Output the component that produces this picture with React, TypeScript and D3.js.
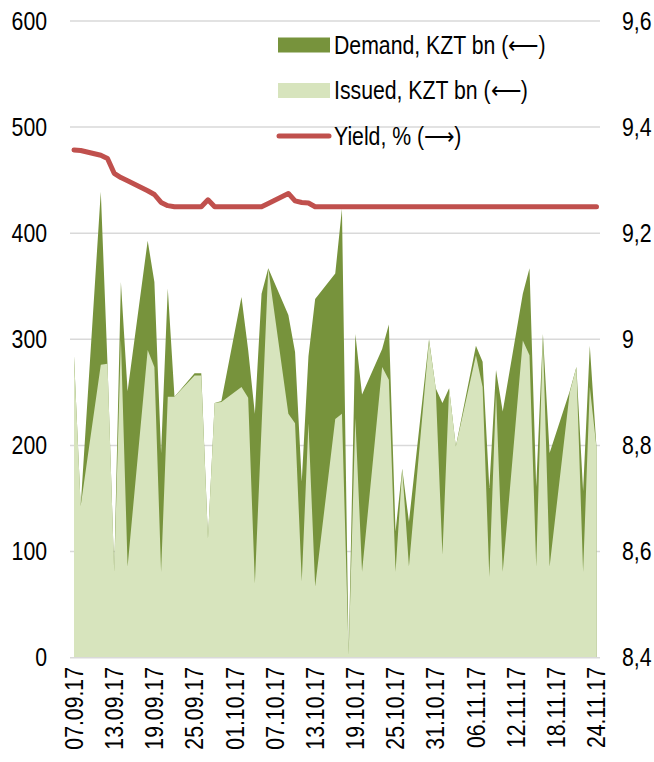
import React from "react";
import * as d3 from "d3";

// auction dates (business days)
const dates = [
  "07.09.17", "08.09.17", "11.09.17", "12.09.17", "13.09.17", "14.09.17", "15.09.17",
  "18.09.17", "19.09.17", "20.09.17", "21.09.17", "22.09.17", "25.09.17", "26.09.17",
  "27.09.17", "28.09.17", "29.09.17", "02.10.17", "03.10.17", "04.10.17", "05.10.17",
  "06.10.17", "09.10.17", "10.10.17", "11.10.17", "12.10.17", "13.10.17", "16.10.17",
  "17.10.17", "18.10.17", "19.10.17", "20.10.17", "23.10.17", "24.10.17", "25.10.17",
  "26.10.17", "27.10.17", "30.10.17", "31.10.17", "01.11.17", "02.11.17", "03.11.17",
  "06.11.17", "07.11.17", "08.11.17", "09.11.17", "10.11.17", "13.11.17", "14.11.17",
  "15.11.17", "16.11.17", "17.11.17", "20.11.17", "21.11.17", "22.11.17", "23.11.17",
  "24.11.17",
];

// KZT bn
const demand = [
  284, 143, 439, 277, 81, 354, 251, 393, 354, 193, 348, 246, 268, 268, 112, 240, 242,
  340, 290, 230, 343, 367, 323, 288, 166, 284, 338, 362, 423, 3, 305, 248, 291, 314,
  119, 178, 128, 300, 254, 240, 254, 199, 294, 279, 160, 271, 232, 343, 367, 161, 305,
  193, 251, 274, 157, 294, 198,
];
const issued = [
  284, 143, 276, 277, 81, 300, 86, 290, 274, 81, 246, 246, 266, 266, 112, 240, 241,
  255, 245, 70, 218, 367, 230, 221, 72, 221, 67, 225, 230, 3, 226, 81, 274, 262, 81,
  178, 86, 299, 254, 97, 254, 199, 285, 255, 76, 250, 81, 299, 285, 86, 303, 86, 250,
  274, 81, 255, 198,
];
// %
const yieldPct = [
  9.357, 9.356, 9.347, 9.341, 9.313, 9.305, 9.299, 9.28, 9.273, 9.258, 9.252, 9.25,
  9.25, 9.25, 9.263, 9.25, 9.25, 9.25, 9.25, 9.25, 9.25, 9.256, 9.275, 9.261, 9.258,
  9.257, 9.25, 9.25, 9.25, 9.25, 9.25, 9.25, 9.25, 9.25, 9.25, 9.25, 9.25, 9.25, 9.25,
  9.25, 9.25, 9.25, 9.25, 9.25, 9.25, 9.25, 9.25, 9.25, 9.25, 9.25, 9.25, 9.25, 9.25,
  9.25, 9.25, 9.25, 9.25,
];

const xTickLabels = [
  "07.09.17", "13.09.17", "19.09.17", "25.09.17", "01.10.17", "07.10.17", "13.10.17",
  "19.10.17", "25.10.17", "31.10.17", "06.11.17", "12.11.17", "18.11.17", "24.11.17",
];
const leftTicks = [0, 100, 200, 300, 400, 500, 600];
const rightTicks = [8.4, 8.6, 8.8, 9, 9.2, 9.4, 9.6];

const legendItems = [
  { label: "Demand, KZT bn (\u27F5)", kind: "demand" },
  { label: "Issued, KZT bn (\u27F5)", kind: "issued" },
  { label: "Yield, % (\u27F6)", kind: "yield" },
];

const W = 654;
const H = 762;
const C_DEMAND = "#77933C";
const C_ISSUED = "#D7E4BD";
const C_YIELD = "#C0504D";
const C_GRID = "#D9D9D9";
const FONT = "'Liberation Sans', Arial, sans-serif";
const FS = 25;
const SX = 0.85; // text in the source is horizontally condensed

const parse = d3.utcParse("%d.%m.%y");

const Txt = ({ x, y, anchor = "start", rot = false, children }: any) => (
  <text
    transform={`translate(${x},${y})${rot ? " rotate(-90)" : ""} scale(${SX},1)`}
    textAnchor={anchor}
    dy="0.35em"
    fontFamily={FONT}
    fontSize={FS}
    fill="#000"
  >
    {children}
  </text>
);

export default function App() {
  const pts = dates.map((d, i) => ({
    date: parse(d) as Date,
    demand: demand[i],
    issued: issued[i],
    yld: yieldPct[i],
  }));

  const x = d3
    .scaleUtc()
    .domain([parse(dates[0]) as Date, parse(dates[dates.length - 1]) as Date])
    .range([74, 596.5]);
  const yL = d3.scaleLinear().domain([0, 600]).range([657.7, 21]);
  const yR = d3.scaleLinear().domain([8.4, 9.6]).range([657.7, 21]);

  const demandArea = d3
    .area<any>()
    .x((d) => x(d.date))
    .y0(yL(0))
    .y1((d) => yL(d.demand));
  const issuedArea = d3
    .area<any>()
    .x((d) => x(d.date))
    .y0(yL(0))
    .y1((d) => yL(d.issued));
  const yieldLine = d3
    .line<any>()
    .x((d) => x(d.date))
    .y((d) => yR(d.yld));

  const gx0 = 70;
  const gx1 = 600;

  return (
    <svg
      width={W}
      height={H}
      style={{ position: "absolute", left: 0, top: 0, background: "#fff" }}
    >
      {/* gridlines */}
      {leftTicks.slice(1).map((t) => (
        <line key={t} x1={gx0} x2={gx1} y1={yL(t)} y2={yL(t)} stroke={C_GRID} strokeWidth={1.5} />
      ))}

      <path d={demandArea(pts) || ""} fill={C_DEMAND} />
      <path d={issuedArea(pts) || ""} fill={C_ISSUED} />

      {/* x axis line */}
      <line x1={gx0} x2={gx1} y1={yL(0)} y2={yL(0)} stroke={C_GRID} strokeWidth={1.5} />

      <path
        d={yieldLine(pts) || ""}
        fill="none"
        stroke={C_YIELD}
        strokeWidth={5}
        strokeLinecap="round"
        strokeLinejoin="round"
      />

      {/* left axis */}
      {leftTicks.map((t) => (
        <Txt key={t} x={47} y={yL(t)} anchor="end">
          {t}
        </Txt>
      ))}
      {/* right axis */}
      {rightTicks.map((t) => (
        <Txt key={t} x={622} y={yR(t)}>
          {String(t).replace(".", ",")}
        </Txt>
      ))}
      {/* x axis labels */}
      {xTickLabels.map((l) => (
        <Txt key={l} x={x(parse(l) as Date)} y={667} anchor="end" rot>
          {l}
        </Txt>
      ))}

      {/* legend */}
      {legendItems.map((it, i) => {
        const cy = 45 + i * 45.5;
        return (
          <g key={it.kind}>
            {it.kind === "yield" ? (
              <line
                x1={279}
                x2={329}
                y1={cy}
                y2={cy}
                stroke={C_YIELD}
                strokeWidth={5}
                strokeLinecap="round"
              />
            ) : (
              <rect
                x={278}
                y={cy - 7.5}
                width={52}
                height={15}
                fill={it.kind === "demand" ? C_DEMAND : C_ISSUED}
              />
            )}
            <Txt x={334} y={cy}>
              {it.label}
            </Txt>
          </g>
        );
      })}
    </svg>
  );
}
